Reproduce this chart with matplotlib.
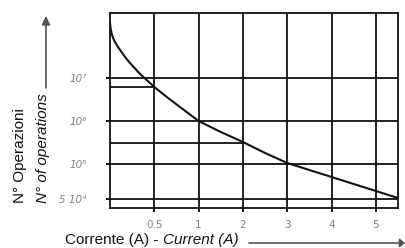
import matplotlib
matplotlib.use("Agg")
import matplotlib.pyplot as plt
from matplotlib import font_manager

names = {f.name for f in font_manager.fontManager.ttflist}
NARROW = "Liberation Sans Narrow" if "Liberation Sans Narrow" in names else "Liberation Sans"

# ---- data (positions along schematic axes) ----
x_tick_pos = [1, 2, 3, 4, 5, 6]
x_tick_labels = ["0.5", "1", "2", "3", "4", "5"]
y_tick_pos = [130, 87, 44, 9]
y_tick_labels = ["10⁷", "10⁶", "10⁵", "5 10⁴"]
partial_y = [121, 65]
partial_x_end = [1, 3]
curve_x = [0, 0.01, 0.02, 0.04, 0.07, 0.10, 0.14, 0.18, 0.23, 0.34, 0.45, 0.68, 1.0,
           1.31, 1.67, 2.0, 2.5, 3.0, 3.5, 4.0, 4.5, 5.0, 5.5, 6.0, 6.5]
curve_y = [185, 181, 178, 174, 170, 167, 164, 161, 158, 151, 145, 134, 121,
           110, 98, 87, 76, 66, 55, 45, 38, 31, 24, 17, 10]
x_max, y_max = 6.5, 195

fig = plt.figure(figsize=(4.06, 2.48), dpi=100)
ax = fig.add_axes([110/406, 1-208/248, 288/406, 195/248])
ax.set_xlim(0, x_max)
ax.set_ylim(0, y_max)

lw = 1.3
for xp in x_tick_pos:
    ax.axvline(xp, color="#111111", lw=lw, zorder=1)
for yp in y_tick_pos:
    ax.axhline(yp, color="#111111", lw=lw, zorder=1)
for yp, xe in zip(partial_y, partial_x_end):
    ax.plot([0, xe], [yp, yp], color="#111111", lw=lw, zorder=1)
ax.plot(curve_x, curve_y, color="#111111", lw=1.5, zorder=2)

for s in ax.spines.values():
    s.set_linewidth(lw)
    s.set_color("#111111")

ax.set_xticks(x_tick_pos)
ax.set_xticklabels(x_tick_labels, color="#808080", fontsize=7.5)
ax.set_yticks(y_tick_pos)
ax.set_yticklabels(y_tick_labels, color="#808080", fontsize=7.5, style="italic")
ax.tick_params(axis="x", length=3, width=lw, pad=6)
ax.tick_params(axis="y", length=3, width=lw, pad=14)

fam = [NARROW, "DejaVu Sans"]
# y label texts with arrow
fig.text(20/406, 1-203/248, "N° Operazioni", rotation=90, ha="center", va="bottom",
         fontsize=11, family=fam, color="#111111")
fig.text(43/406, 1-203/248, "N° of operations", rotation=90, ha="center", va="bottom",
         fontsize=11, family=fam, style="italic", color="#111111")
fig.add_artist(matplotlib.patches.FancyArrowPatch(
    (46/406, 1-88/248), (46/406, 1-16/248), transform=fig.transFigure,
    arrowstyle="-|>,head_length=5,head_width=2.5", color="#555555", lw=1.2,
    mutation_scale=1, shrinkA=0, shrinkB=0))

# x label texts with arrow
t1 = fig.text(65/406, 1-240/248, "Corrente (A) - ", ha="left", va="center",
              fontsize=11, family=fam, color="#111111")
fig.canvas.draw()
bb = t1.get_window_extent()
fig.text(bb.x1/406, 1-240/248, "Current (A)", ha="left", va="center",
         fontsize=11, family=fam, style="italic", color="#111111")
fig.add_artist(matplotlib.patches.FancyArrowPatch(
    (249/406, 1-243/248), (405/406, 1-243/248), transform=fig.transFigure,
    arrowstyle="-|>,head_length=3,head_width=2.5", color="#555555", lw=1.2,
    mutation_scale=1, shrinkA=0, shrinkB=0))

fig.savefig("out.png", dpi=100)
